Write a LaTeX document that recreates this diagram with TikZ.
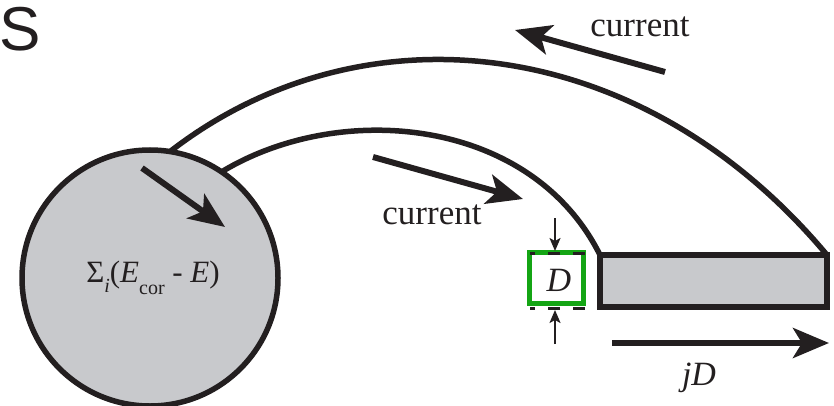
\documentclass[tikz,border=0pt]{standalone}
\usepackage{fontspec}
\setmainfont{Liberation Serif}
\newfontfamily\helv{Liberation Sans}
\usetikzlibrary{arrows.meta}
\definecolor{ink}{RGB}{35,31,32}
\definecolor{fillgray}{RGB}{200,201,204}
\definecolor{boxgreen}{RGB}{20,165,20}
\tikzset{
  thickline/.style={draw=ink, line width=5.5pt},
  bigarrow/.style={draw=ink, line width=6pt, -{Stealth[length=36pt,width=30pt,inset=9pt]}},
  smallarrow/.style={draw=ink, line width=2pt, -{Stealth[length=13pt,width=11pt,inset=3pt]}},
  guide/.style={draw=ink, line width=3pt, dash pattern=on 12pt off 13pt, dash phase=7pt},
  lbl/.style={font=\fontsize{35}{35}\selectfont, text=ink, inner sep=0pt, anchor=base},
}
\begin{document}
\begin{tikzpicture}[x=1pt,y=-1pt]
\useasboundingbox (0,0) rectangle (834,406);

% big label
\node[font=\helv\fontsize{62}{62}\selectfont, text=ink, anchor=base west, inner sep=0pt] (S) at (-1,51) {S};

% nodes
\node[circle, draw=ink, fill=fillgray, line width=5.5pt, minimum size=256pt, inner sep=0pt, outer sep=0pt] (pool) at (150,278) {};
\node[draw=ink, fill=fillgray, line width=6pt, minimum width=227pt, minimum height=52pt, inner sep=0pt, outer sep=0pt] (bar) at (713.5,281) {};

% arcs
\draw[thickline] (pool.81) .. controls (359,5) and (638,29) .. (bar.north east);
\draw[thickline] (pool.56) .. controls (340,100) and (531,117) .. (bar.north west);

% formula
\node[anchor=base, inner sep=0pt, text=ink, font=\fontsize{31}{31}\selectfont] (sum) at (153,282)
  {Σ\raisebox{-0.33em}{\fontsize{20}{20}\selectfont\textit{i}}(\textit{E}\raisebox{-0.4em}{\fontsize{20}{20}\selectfont cor} - \textit{E})};

% green box
\node[draw=boxgreen, line width=5pt, minimum width=54pt, minimum height=51pt, inner sep=0pt, outer sep=0pt] (dbox) at (556,277.5) {};
\node[lbl, font=\itshape\fontsize{34}{34}\selectfont] (dlabel) at (559,291) {D};

% guides
\coordinate (gtl) at (530,253);
\coordinate (gtr) at (585,253);
\coordinate (gbl) at (530,308);
\coordinate (gbr) at (585,308);
\draw[guide] (gtl) -- (gtr);
\draw[guide] (gbl) -- (gbr);

% small arrows
\coordinate (ta) at (555,218);
\coordinate (tb) at (555,251);
\coordinate (ba) at (555,344);
\coordinate (bb) at (555,310);
\draw[smallarrow] (ta) -- (tb);
\draw[smallarrow] (ba) -- (bb);

% big arrows
\coordinate (c1s) at (142,168);
\coordinate (c1e) at (225,227);
\draw[bigarrow] (c1s) -- (c1e);
\coordinate (c2s) at (373,157);
\coordinate (c2e) at (523,199);
\draw[bigarrow] (c2s) -- (c2e);
\coordinate (c3s) at (665,72);
\coordinate (c3e) at (515,30);
\draw[bigarrow] (c3s) -- (c3e);
\coordinate (c4s) at (612,343);
\coordinate (c4e) at (829,343);
\draw[bigarrow] (c4s) -- (c4e);

% labels
\node[lbl] (curtop) at (640,37) {current};
\node[lbl] (curlow) at (432,224) {current};
\node[lbl, font=\itshape\fontsize{34}{34}\selectfont] (jd) at (699,385) {jD};
\end{tikzpicture}
\end{document}
